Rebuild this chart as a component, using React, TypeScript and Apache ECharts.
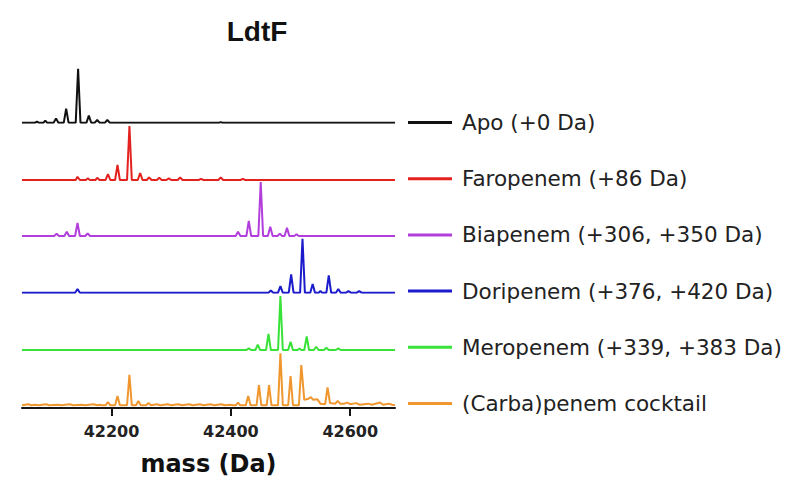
import React, { useEffect, useRef } from "react";
import * as echarts from "echarts";

const chartTitle = "LdtF";
const xAxisName = "mass (Da)";
const xMin = 42050;
const xMax = 42675;
const tickValues = [42200, 42400, 42600];

const seriesNames = [
  "Apo (+0 Da)",
  "Faropenem (+86 Da)",
  "Biapenem (+306, +350 Da)",
  "Doripenem (+376, +420 Da)",
  "Meropenem (+339, +383 Da)",
  "(Carba)penem cocktail",
];
const seriesColors = ["#111111", "#e3211f", "#b23fdc", "#1b1bcc", "#38e238", "#f0962e"];

// [mass (Da), relative intensity (%)]
const apo = [
  [42050, 0], [42072, 0], [42075, 2], [42078, 0], [42086, 0], [42089, 4], [42092, 0],
  [42103, 0], [42107, 8], [42111, 0], [42120, 0], [42124, 26], [42128, 0], [42140, 0],
  [42144, 100], [42148, 0], [42158, 0], [42162, 13], [42166, 0], [42172, 0], [42176, 5],
  [42180, 0], [42189, 0], [42193, 5], [42197, 0], [42380, 0], [42383, 1], [42386, 0],
  [42675, 0],
];
const faropenem = [
  [42050, 0], [42140, 0], [42143, 6], [42147, 0], [42157, 0], [42160, 3], [42164, 0],
  [42173, 0], [42176, 4], [42180, 0], [42190, 0], [42194, 11], [42198, 0], [42206, 0],
  [42210, 28], [42214, 0], [42226, 0], [42230, 100], [42234, 0], [42244, 0], [42248, 13],
  [42252, 0], [42259, 0], [42263, 5], [42267, 0], [42276, 0], [42280, 4], [42284, 0],
  [42292, 0], [42296, 3], [42300, 0], [42311, 0], [42315, 5], [42319, 0], [42346, 0],
  [42350, 2], [42354, 0], [42379, 0], [42383, 5], [42387, 0], [42416, 0], [42420, 2],
  [42424, 0], [42675, 0],
];
const biapenem = [
  [42050, 0], [42104, 0], [42108, 4], [42112, 0], [42121, 0], [42125, 8], [42129, 0],
  [42139, 0], [42143, 24], [42147, 0], [42156, 0], [42160, 5], [42164, 0], [42408, 0],
  [42412, 8], [42416, 0], [42426, 0], [42430, 28], [42434, 0], [42446, 0], [42450, 100],
  [42454, 0], [42462, 0], [42466, 17], [42470, 0], [42478, 0], [42482, 4], [42486, 0],
  [42490, 0], [42494, 15], [42498, 0], [42506, 0], [42510, 3], [42514, 0], [42675, 0],
];
const doripenem = [
  [42050, 0], [42139, 0], [42143, 7], [42147, 0], [42463, 0], [42467, 4], [42471, 0],
  [42479, 0], [42483, 12], [42487, 0], [42497, 0], [42501, 34], [42505, 0], [42516, 0],
  [42520, 100], [42524, 0], [42533, 0], [42537, 16], [42541, 0], [42547, 0], [42550, 3],
  [42553, 0], [42560, 0], [42564, 32], [42568, 0], [42576, 0], [42580, 7], [42584, 0],
  [42593, 0], [42597, 3], [42601, 0], [42611, 0], [42615, 3], [42619, 0], [42675, 0],
];
const meropenem = [
  [42050, 0], [42426, 0], [42430, 3], [42434, 0], [42441, 0], [42445, 10], [42449, 0],
  [42459, 0], [42463, 30], [42467, 0], [42479, 0], [42483, 100], [42487, 0], [42496, 0],
  [42500, 15], [42504, 0], [42512, 0], [42515, 3], [42518, 0], [42523, 0], [42527, 25],
  [42531, 0], [42539, 0], [42543, 6], [42547, 0], [42556, 0], [42560, 4], [42564, 0],
  [42576, 0], [42580, 3], [42584, 0], [42675, 0],
];
const cocktail = [
  [42050, 0], [42060, 2], [42066, 0], [42072, 1], [42078, 0], [42090, 2], [42096, 0],
  [42110, 1], [42116, 0], [42130, 2], [42136, 0], [42150, 1], [42156, 0], [42170, 2],
  [42176, 0], [42180, 1], [42184, 0], [42190, 0], [42194, 6], [42198, 0], [42206, 0],
  [42210, 17], [42214, 0], [42226, 0], [42230, 56], [42234, 0], [42241, 0], [42245, 8],
  [42249, 0], [42258, 0], [42262, 4], [42266, 0], [42276, 2], [42282, 0], [42294, 2],
  [42300, 0], [42312, 2], [42318, 0], [42330, 2], [42336, 0], [42348, 2], [42354, 0],
  [42366, 2], [42372, 0], [42384, 2], [42390, 0], [42398, 1], [42404, 0], [42408, 0],
  [42412, 5], [42416, 0], [42425, 0], [42429, 17], [42433, 0], [42443, 0], [42447, 37],
  [42451, 0], [42460, 0], [42464, 37], [42468, 0], [42479, 0], [42483, 96], [42487, 0],
  [42496, 0], [42500, 54], [42504, 0], [42514, 0], [42518, 74], [42523, 10], [42530, 12],
  [42534, 15], [42538, 10], [42545, 11], [42550, 3], [42558, 2], [42562, 33], [42566, 4],
  [42575, 3], [42579, 8], [42583, 3], [42590, 3], [42595, 5], [42600, 2], [42610, 4],
  [42616, 1], [42630, 3], [42636, 1], [42650, 5], [42655, 1], [42665, 3], [42670, 1],
  [42675, 0],
];

const spectra = [apo, faropenem, biapenem, doripenem, meropenem, cocktail];

export default function App() {
  const ref = useRef<HTMLDivElement>(null);
  useEffect(() => {
    if (!ref.current) return;
    const chart = echarts.init(ref.current, null, { renderer: "svg" });
    // the chart div sits at (8, 8) because of the body margin
    const baselines = [114.7, 172, 228, 284.7, 342];
    const grids = spectra.map((_, i) =>
      i < 5
        ? { left: 14, width: 373, top: baselines[i] - 54, height: 54 }
        : { left: 14, width: 373, top: 343, height: 57 }
    );
    const xAxes = spectra.map((_, i) => ({
      type: "value",
      gridIndex: i,
      min: xMin,
      max: xMax,
      show: i === 5,
      splitLine: { show: false },
      axisLine: { show: i === 5, onZero: false, lineStyle: { color: "#151515", width: 2 } },
      axisTick: {
        show: i === 5,
        customValues: tickValues,
        length: 8,
        lineStyle: { color: "#151515", width: 2 },
      },
      axisLabel: {
        show: i === 5,
        customValues: tickValues,
        formatter: (v: number) => String(v),
        fontFamily: "DejaVu Sans",
        fontWeight: "bold",
        fontSize: 16,
        color: "#222",
        margin: 15,
      },
      name: i === 5 ? xAxisName : "",
      nameLocation: "middle",
      nameGap: 44,
      nameTextStyle: {
        fontFamily: "DejaVu Sans",
        fontWeight: "bold",
        fontSize: 24,
        color: "#111",
      },
    }));
    const yAxes = spectra.map((_, i) => ({
      type: "value",
      gridIndex: i,
      min: i === 5 ? -5 : 0,
      max: 100,
      show: false,
      splitLine: { show: false },
    }));
    const series = spectra.map((d, i) => ({
      type: "line",
      name: seriesNames[i],
      xAxisIndex: i,
      yAxisIndex: i,
      data: d,
      showSymbol: false,
      symbol: "none",
      color: seriesColors[i],
      lineStyle: { color: seriesColors[i], width: 2 },
      z: 10 - i,
    }));
    chart.setOption({
      animation: false,
      backgroundColor: "#ffffff",
      title: {
        text: chartTitle,
        left: 244,
        top: 4,
        textAlign: "center",
        textStyle: { fontFamily: "Liberation Sans", fontWeight: "bold", fontSize: 28, color: "#111" },
      },
      legend: {
        orient: "vertical",
        left: 395,
        top: 98.5,
        icon: "rect",
        itemWidth: 44,
        itemHeight: 3,
        itemGap: 34.2,
        data: seriesNames,
        textStyle: {
          fontFamily: "DejaVu Sans",
          fontSize: 21.5,
          lineHeight: 22,
          color: "#222",
          padding: [0, 0, 0, 5],
        },
      },
      grid: grids,
      xAxis: xAxes,
      yAxis: yAxes,
      series,
    });
    return () => chart.dispose();
  }, []);
  return <div ref={ref} style={{ width: 800, height: 497 }} />;
}
